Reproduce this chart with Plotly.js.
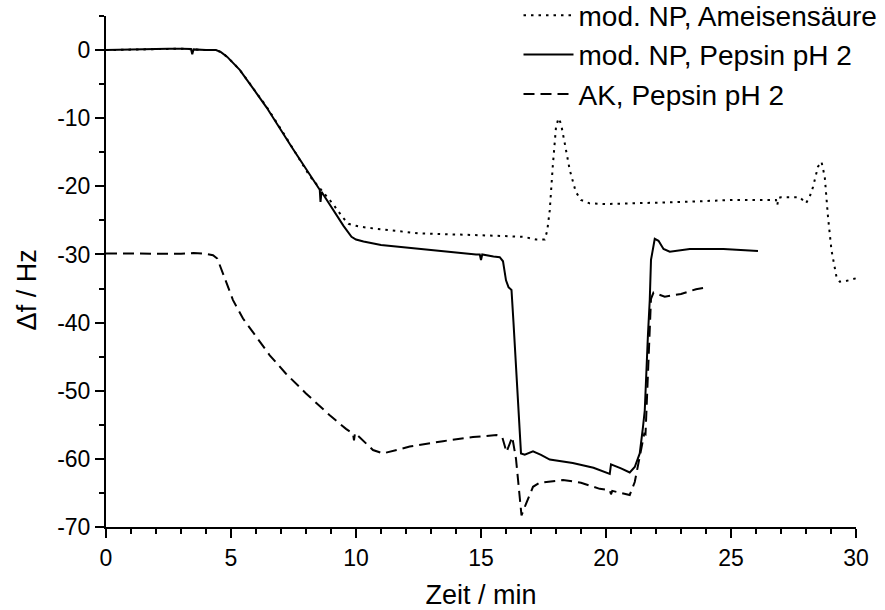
<!DOCTYPE html>
<html><head><meta charset="utf-8">
<script src="https://cdn.plot.ly/plotly-3.0.1.min.js"></script>
<style>html,body{margin:0;padding:0;background:#fff}#chart{width:885px;height:610px}</style>
</head><body><div id="chart"></div><script>
// Series names
const seriesNames = ["mod. NP, Ameisensäure", "mod. NP, Pepsin pH 2", "AK, Pepsin pH 2"];

// mod. NP, Ameisensäure (dotted)
const ameiseX = [0,1,2,3,4,4.4,4.6,4.85,5.35,6.42,7.1,7.75,8.15,9.08,9.48,9.7,10.0,10.5,11.6,12.5,14.3,15.5,16.7,17.2,17.55,17.65,17.75,17.87,18.0,18.1,18.2,18.35,18.55,18.79,19.0,19.35,20,21,22.15,23,25.08,26.8,26.85,26.9,27.0,27.75,28.0,28.15,28.28,28.48,28.62,28.75,28.88,29.02,29.22,29.35,29.6,30.0];
const ameiseY = [0,0.1,0.2,0.2,0,0,-0.3,-1.0,-2.9,-8.3,-12.2,-16.0,-18.5,-22.6,-24.6,-25.5,-25.8,-26.1,-26.6,-26.9,-27.1,-27.2,-27.4,-27.8,-27.8,-26.5,-23.5,-17.1,-11.3,-10.0,-10.8,-13.7,-17.6,-20.8,-22.0,-22.5,-22.6,-22.5,-22.4,-22.3,-22.0,-22.0,-22.8,-21.7,-21.6,-21.6,-22.5,-21.5,-20.1,-17.1,-16.4,-18.6,-24.5,-29.4,-33.3,-34.0,-33.9,-33.5];

// mod. NP, Pepsin pH 2 (solid)
const pepsinNPX = [0,0.5,1,1.5,2,2.5,3,3.4,3.45,3.5,4,4.4,4.6,4.85,5.35,6.42,7.42,8.55,8.58,8.62,9.5,9.82,10.0,10.3,11,11.75,12.95,14,14.8,14.95,15.0,15.05,15.5,15.75,15.88,16.0,16.1,16.22,16.3,16.45,16.6,16.75,17.08,17.4,17.75,18.67,19.5,20.15,20.2,20.6,20.95,21.15,21.35,21.48,21.55,21.68,21.75,21.8,21.95,22.1,22.3,22.55,22.9,23.35,24.7,25.5,26.08];
const pepsinNPY = [0,0.05,0.1,0.2,0.25,0.2,0.2,0.15,-0.6,0.1,0,0,-0.3,-1.0,-2.9,-8.4,-14.2,-20.5,-22.3,-20.8,-25.8,-27.4,-27.8,-28.1,-28.6,-28.9,-29.3,-29.7,-30.0,-30.0,-30.8,-30.0,-30.3,-30.4,-31.0,-33.8,-34.8,-35.2,-40,-50,-59.2,-59.4,-58.9,-59.4,-60.1,-60.6,-61.3,-62.2,-60.8,-61.4,-62.0,-61.2,-59.2,-55.3,-52.9,-41.6,-36.7,-30.8,-27.7,-28.0,-29.2,-29.6,-29.4,-29.2,-29.2,-29.4,-29.5];

// AK, Pepsin pH 2 (dashed)
const pepsinAKX = [0,1,2,3,3.5,4.0,4.28,4.45,4.68,5.08,5.48,6.0,6.55,7.2,8.0,8.95,9.6,9.88,9.92,9.96,10.68,11.08,11.75,12.15,13.48,14.68,15.62,15.85,16.02,16.25,16.4,16.55,16.62,16.8,17.08,17.35,18.28,19.0,19.75,20.15,20.2,20.25,20.95,21.15,21.35,21.53,21.58,21.65,21.72,21.8,21.9,22.35,23.0,23.6,24.08];
const pepsinAKY = [-29.85,-29.9,-29.9,-29.9,-29.8,-29.9,-30.1,-30.6,-32.8,-36.7,-39.4,-42.1,-44.8,-47.5,-50.4,-53.6,-55.6,-56.3,-57.3,-56.2,-58.7,-59.2,-58.6,-58.2,-57.4,-56.8,-56.5,-56.8,-59.0,-56.8,-60,-66,-68.3,-66.6,-64.1,-63.5,-63.1,-63.5,-64.4,-64.6,-65.2,-64.7,-65.3,-63.4,-59.7,-56.3,-56.4,-50,-42,-36.5,-35.6,-36.2,-35.8,-35.1,-34.8];

// Axis ticks
const xTickVals = [0,5,10,15,20,25,30];
const xTickText = ["0","5","10","15","20","25","30"];
const yTickVals = [0,-10,-20,-30,-40,-50,-60,-70];
const yTickText = ["0","-10","-20","-30","-40","-50","-60","-70"];

const FONT = "Liberation Sans, Arial, sans-serif";

const traces = [
  {x: ameiseX, y: ameiseY, name: seriesNames[0], mode: "lines",
   line: {color: "#000", width: 2, dash: "2.5px,5px"}},
  {x: pepsinNPX, y: pepsinNPY, name: seriesNames[1], mode: "lines",
   line: {color: "#000", width: 2, dash: "solid"}},
  {x: pepsinAKX, y: pepsinAKY, name: seriesNames[2], mode: "lines",
   line: {color: "#000", width: 2, dash: "11px,6px"}}
];

const axisCommon = {
  showgrid: false, zeroline: false, showline: true, linecolor: "#000", linewidth: 2,
  ticks: "outside", ticklen: 9, tickwidth: 2, tickcolor: "#000",
  tickfont: {family: FONT, size: 23, color: "#000"}, automargin: false
};

const layout = {
  width: 885, height: 610,
  margin: {l: 106, r: 29, t: 16, b: 83, autoexpand: false},
  paper_bgcolor: "#fff", plot_bgcolor: "#fff",
  font: {family: FONT, color: "#000"},
  showlegend: true,
  legend: {x: 0.55, xanchor: "left", y: 1.05, yanchor: "top",
    bgcolor: "rgba(0,0,0,0)", font: {family: FONT, size: 28, color: "#000"},
    itemwidth: 50, tracegroupgap: 0},
  xaxis: Object.assign({}, axisCommon, {
    range: [0, 30], tickmode: "array", tickvals: xTickVals, ticktext: xTickText,
    minor: {dtick: 1, ticks: "outside", ticklen: 5, tickwidth: 2, tickcolor: "#000", showgrid: false},
    title: {text: "Zeit / min", font: {family: FONT, size: 27, color: "#000"}, standoff: 21}
  }),
  yaxis: Object.assign({}, axisCommon, {
    range: [-70, 5], tickmode: "array", tickvals: yTickVals, ticktext: yTickText,
    minor: {dtick: 5, tick0: 0, ticks: "outside", ticklen: 5, tickwidth: 2, tickcolor: "#000", showgrid: false}
  }),
  annotations: [{
    text: "Δf / Hz", xref: "paper", yref: "paper", x: -0.105, y: 0.4635,
    xanchor: "center", yanchor: "middle", textangle: -90, showarrow: false,
    font: {family: FONT, size: 27, color: "#000"}
  }]
};

Plotly.newPlot("chart", traces, layout, {displayModeBar: false, staticPlot: true});
</script></body></html>
